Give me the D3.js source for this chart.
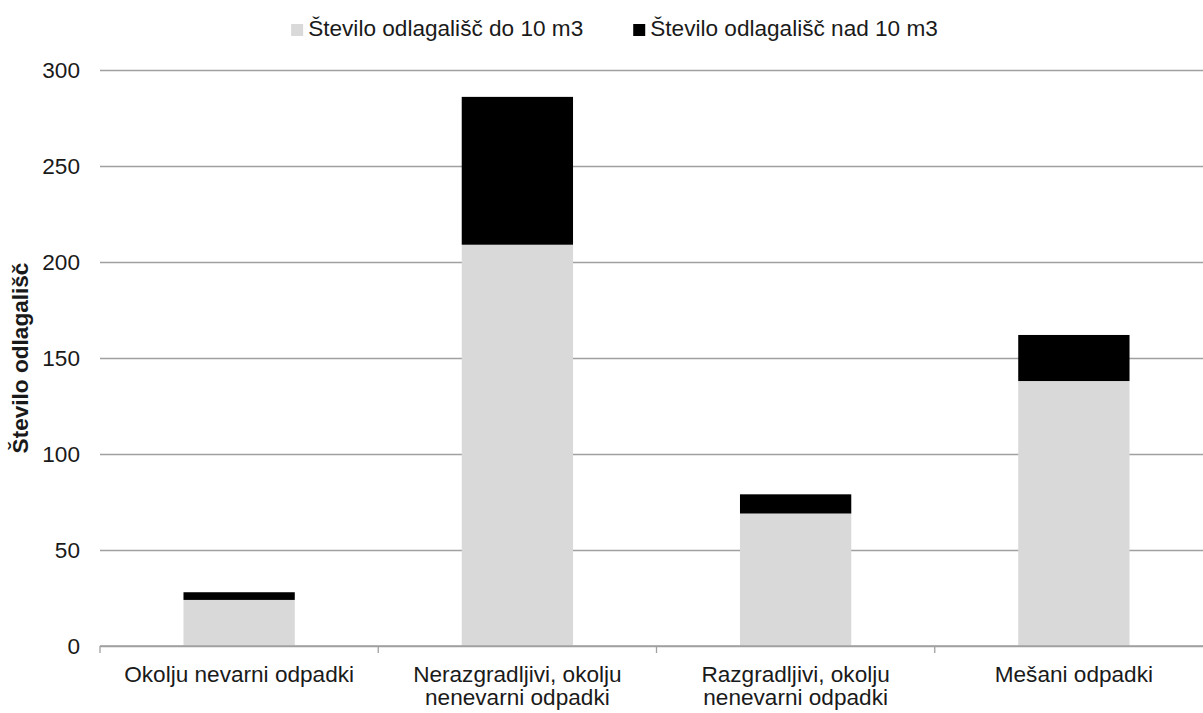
<!DOCTYPE html>
<html>
<head>
<meta charset="utf-8">
<script src="https://cdn.jsdelivr.net/npm/d3@7"></script>
<style>
  body { margin: 0; background: #fff; }
  svg { display: block; font-family: "Liberation Sans", Arial, sans-serif; }
</style>
</head>
<body>
<svg></svg>
<script>
const width = 1203;
const height = 713;

const categories = ["Okolju nevarni odpadki", "Nerazgradljivi, okolju\nnenevarni odpadki", "Razgradljivi, okolju\nnenevarni odpadki", "Mešani odpadki"];
const seriesNames = ["Število odlagališč do 10 m3", "Število odlagališč nad 10 m3"];
const under10 = [24, 209, 69, 138];
const over10 = [4, 77, 10, 24];
const yTicks = [0, 50, 100, 150, 200, 250, 300];
const colors = ["#d9d9d9", "#000000"];

const plotLeft = 100, plotRight = 1213, plotTop = 70, plotBottom = 646;
const textColor = "#1a1a1a";
const fontSize = 22.6;

const rows = categories.map((c, i) => ({ cat: c, under: under10[i], over: over10[i] }));
const stacked = d3.stack().keys(["under", "over"])(rows);

const svg = d3.select("svg")
              .attr("width", width)
              .attr("height", height)
              .attr("viewBox", `0 0 ${width} ${height}`);

const x = d3.scaleBand().domain(categories).range([plotLeft, plotRight]).padding(0);
const y = d3.scaleLinear().domain([0, 300]).range([plotBottom, plotTop]);
const barWidth = x.bandwidth() * 0.4;

// gridlines + y tick labels
const yAxis = svg.append("g")
    .attr("transform", `translate(${plotLeft},0)`)
    .call(d3.axisLeft(y).tickValues(yTicks).tickSize(-(plotRight - plotLeft)).tickPadding(20));
yAxis.select(".domain").remove();
yAxis.selectAll(".tick line").attr("stroke", "#a0a0a0").attr("stroke-width", 1.3);
yAxis.selectAll(".tick text")
    .attr("fill", textColor)
    .attr("font-size", fontSize)
    .attr("font-family", "Liberation Sans, Arial, sans-serif");

// stacked bars
svg.append("g")
  .selectAll("g")
  .data(stacked)
  .join("g")
    .attr("fill", (d, i) => colors[i])
  .selectAll("rect")
  .data(d => d)
  .join("rect")
    .attr("x", d => x(d.data.cat) + (x.bandwidth() - barWidth) / 2)
    .attr("width", barWidth)
    .attr("y", d => y(d[1]))
    .attr("height", d => y(d[0]) - y(d[1]));

// x baseline with ticks at category boundaries
svg.append("line")
    .attr("x1", plotLeft).attr("x2", plotRight)
    .attr("y1", y(0)).attr("y2", y(0))
    .attr("stroke", "#a0a0a0").attr("stroke-width", 1.3);

svg.append("g")
  .selectAll("line")
  .data(categories.map(c => x(c)).concat([plotRight]))
  .join("line")
    .attr("x1", d => d).attr("x2", d => d)
    .attr("y1", y(0)).attr("y2", y(0) + 7)
    .attr("stroke", "#a0a0a0").attr("stroke-width", 1.3);

// category labels, split on line breaks
svg.append("g")
  .selectAll("text")
  .data(categories)
  .join("text")
    .attr("x", d => x(d) + x.bandwidth() / 2)
    .attr("y", 682)
    .attr("text-anchor", "middle")
    .attr("fill", textColor)
    .attr("font-size", fontSize)
  .selectAll("tspan")
  .data(d => d.split("\n"))
  .join("tspan")
    .attr("x", function () { return this.parentNode.getAttribute("x"); })
    .attr("dy", (d, i) => i === 0 ? 0 : 22.6)
    .text(d => d);

// y axis title
svg.append("text")
    .attr("transform", `translate(28,${(plotTop + plotBottom) / 2}) rotate(-90)`)
    .attr("text-anchor", "middle")
    .attr("font-weight", "bold")
    .attr("fill", textColor)
    .attr("font-size", fontSize)
    .text("Število odlagališč");

// legend, centred as a whole
const legend = svg.append("g");
const items = legend.selectAll("g")
  .data(seriesNames)
  .join("g");

items.append("rect")
    .attr("width", 12).attr("height", 12)
    .attr("y", 24)
    .attr("fill", (d, i) => colors[i]);

items.append("text")
    .attr("x", 17)
    .attr("y", 36)
    .attr("fill", textColor)
    .attr("font-size", fontSize)
    .text(d => d);

let offset = 0;
items.each(function () {
  const w = 17 + d3.select(this).select("text").node().getComputedTextLength();
  d3.select(this).attr("transform", `translate(${offset},0)`);
  offset += w + 50;
});
const total = offset - 50;
legend.attr("transform", `translate(${614.5 - total / 2},0)`);
</script>
</body>
</html>
